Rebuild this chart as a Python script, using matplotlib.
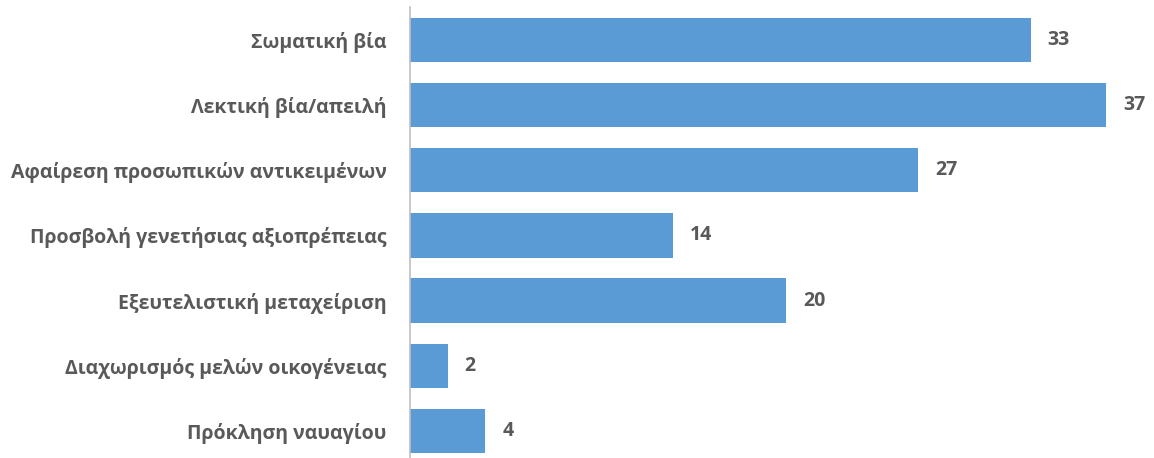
import matplotlib.pyplot as plt

categories = [
    "Σωματική βία",
    "Λεκτική βία/απειλή",
    "Αφαίρεση προσωπικών αντικειμένων",
    "Προσβολή γενετήσιας αξιοπρέπειας",
    "Εξευτελιστική μεταχείριση",
    "Διαχωρισμός μελών οικογένειας",
    "Πρόκληση ναυαγίου",
]
values = [33, 37, 27, 14, 20, 2, 4]

BAR = "#5B9BD5"
TXT = "#595959"

plt.rcParams["font.family"] = ["Open Sans", "DejaVu Sans"]

fig = plt.figure(figsize=(11.54, 4.58), dpi=100)
ax = fig.add_axes([0.3553, -0.012, 0.6447, 0.996])

ypos = list(range(len(categories)))
ax.barh(ypos, values, height=0.68, color=BAR, zorder=2)
ax.set_ylim(len(categories) - 0.5, -0.5)
ax.set_xlim(0, 39.55)

for y, v in zip(ypos, values):
    ax.text(v + 0.9, y, str(v), va="center", ha="left",
            fontsize=14, fontweight="bold", color=TXT)

ax.set_yticks(ypos)
ax.set_yticklabels(categories, fontsize=14, fontweight="bold", color=TXT)
ax.tick_params(axis="y", length=0, pad=17)
ax.set_xticks([])

for s in ["top", "right", "bottom"]:
    ax.spines[s].set_visible(False)
ax.spines["left"].set_color("#BFBFBF")
ax.spines["left"].set_linewidth(1.2)

fig.savefig("out.png", dpi=100)
